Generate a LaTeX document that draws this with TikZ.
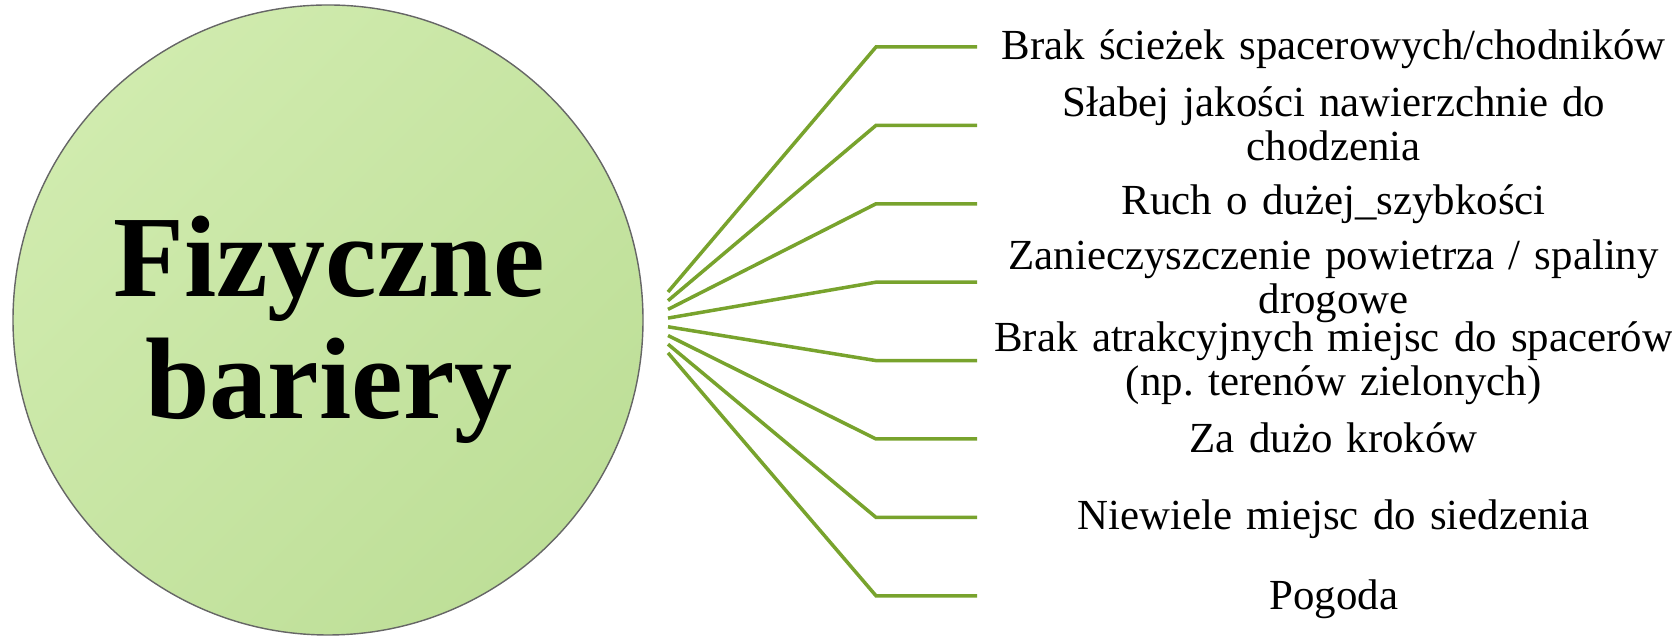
\documentclass[tikz,border=0pt]{standalone}
\usepackage{fontspec}
\setmainfont{Liberation Serif}
\frenchspacing
\begin{document}
\begin{tikzpicture}[
    branch/.style={draw=myLinecol, line width=1pt},
    lbl/.style={anchor=base west, inner sep=0pt, text width=7.12cm, align=center,
        font=\fontsize{12.2}{12.3}\selectfont},
    title/.style={align=center, inner sep=0pt, font=\fontsize{33}{34.7}\selectfont\bfseries}
]
    \definecolor{myCircTop}{RGB}{208,235,174}
    \definecolor{myCircBot}{RGB}{190,223,152}
    \definecolor{myLinecol}{RGB}{120,163,45}
    \useasboundingbox (0,0) rectangle (16.72,6.36);

    % big circle with the title
    \node[circle, minimum size=6.3cm, inner sep=0pt, draw=gray!80!black, line width=0.4pt,
        top color=myCircTop, bottom color=myCircBot, shading angle=45] (circ) at (3.28,3.16) {};
    \node[title] (tit) at (3.29,3.06) {Fizyczne\\bariery};

    % branches and their labels
    \foreach \i/\yb/\txt in {
        0/5.76/{Brak ścieżek spacerowych/chodników},
        1/5.19/{Słabej jakości nawierzchnie do\\chodzenia},
        2/4.21/{Ruch o dużej\_szybkości},
        3/3.66/{Zanieczyszczenie powietrza / spaliny\\drogowe},
        4/2.84/{Brak atrakcyjnych miejsc do spacerów\\(np. terenów zielonych)},
        5/1.83/{Za dużo kroków},
        6/1.06/{Niewiele miejsc do siedzenia},
        7/0.26/{Pogoda}} {
        \coordinate (s\i) at (6.68,{3.44-0.087*\i});
        \coordinate (e\i) at (8.76,{5.89-0.784*\i});
        \node[lbl] (l\i) at (9.77,\yb) {\txt};
        \draw[branch] (s\i) -- (e\i) -- (l\i.west |- e\i);
    }
\end{tikzpicture}
\end{document}
